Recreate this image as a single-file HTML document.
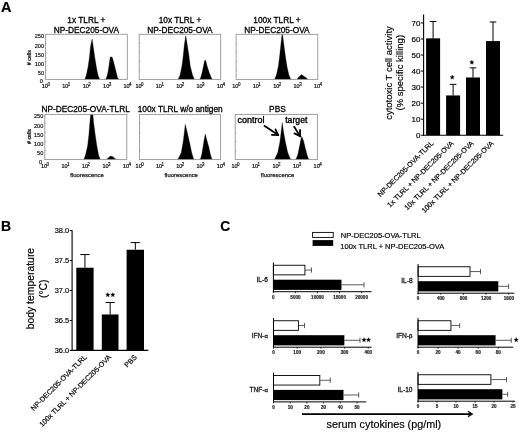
<!DOCTYPE html>
<html><head><meta charset="utf-8"><style>
html,body{margin:0;padding:0;background:#fff;}
body{width:520px;height:432px;overflow:hidden;}
svg{display:block;font-family:"Liberation Sans", sans-serif;will-change:transform;}
</style></head><body>
<svg width="520" height="432" viewBox="0 0 520 432">
<rect width="520" height="432" fill="#fff"/>
<text x="0.90" y="11.80" font-size="14.5" text-anchor="start" font-weight="bold" fill="#000" stroke="#000" stroke-width="0.2" >A</text>
<text x="0.90" y="231.20" font-size="14" text-anchor="start" font-weight="bold" fill="#000" stroke="#000" stroke-width="0.2" >B</text>
<text x="220.20" y="231.30" font-size="13.8" text-anchor="start" font-weight="bold" fill="#000" stroke="#000" stroke-width="0.2" >C</text>
<path d="M84.90,79.30 L86.20,75.60 L88.00,67.25 L89.50,56.80 L90.50,46.40 L92.10,39.10 L93.25,46.40 L94.70,56.80 L96.40,67.25 L98.10,75.60 L99.70,79.30 Z" fill="#000" stroke="#000" stroke-width="0.3" stroke-linejoin="round"/>
<path d="M105.60,79.30 L106.70,77.20 L108.10,71.50 L109.20,64.30 L110.10,57.40 L111.10,56.80 L112.40,57.60 L114.20,64.30 L116.00,71.50 L117.40,77.20 L118.80,79.30 Z" fill="#000" stroke="#000" stroke-width="0.3" stroke-linejoin="round"/>
<rect x="45.60" y="34.30" width="81.70" height="45.10" fill="none" stroke="#959595" stroke-width="0.9"/>
<line x1="45.60" y1="70.38" x2="46.90" y2="70.38" stroke="#959595" stroke-width="0.6" />
<line x1="45.60" y1="61.36" x2="46.90" y2="61.36" stroke="#959595" stroke-width="0.6" />
<line x1="45.60" y1="52.34" x2="46.90" y2="52.34" stroke="#959595" stroke-width="0.6" />
<line x1="45.60" y1="43.32" x2="46.90" y2="43.32" stroke="#959595" stroke-width="0.6" />
<text x="41.80" y="87.70" font-size="5.5" text-anchor="start" font-weight="normal" fill="#111" stroke="#111" stroke-width="0.22" >10</text>
<text x="47.40" y="85.90" font-size="4.5" text-anchor="start" font-weight="normal" fill="#111" stroke="#111" stroke-width="0.18" >0</text>
<text x="62.23" y="87.70" font-size="5.5" text-anchor="start" font-weight="normal" fill="#111" stroke="#111" stroke-width="0.22" >10</text>
<text x="67.83" y="85.90" font-size="4.5" text-anchor="start" font-weight="normal" fill="#111" stroke="#111" stroke-width="0.18" >1</text>
<text x="82.65" y="87.70" font-size="5.5" text-anchor="start" font-weight="normal" fill="#111" stroke="#111" stroke-width="0.22" >10</text>
<text x="88.25" y="85.90" font-size="4.5" text-anchor="start" font-weight="normal" fill="#111" stroke="#111" stroke-width="0.18" >2</text>
<text x="103.08" y="87.70" font-size="5.5" text-anchor="start" font-weight="normal" fill="#111" stroke="#111" stroke-width="0.22" >10</text>
<text x="108.67" y="85.90" font-size="4.5" text-anchor="start" font-weight="normal" fill="#111" stroke="#111" stroke-width="0.18" >3</text>
<text x="123.50" y="87.70" font-size="5.5" text-anchor="start" font-weight="normal" fill="#111" stroke="#111" stroke-width="0.22" >10</text>
<text x="129.10" y="85.90" font-size="4.5" text-anchor="start" font-weight="normal" fill="#111" stroke="#111" stroke-width="0.18" >4</text>
<text x="44.10" y="38.25" font-size="5.6" text-anchor="end" font-weight="normal" fill="#111" stroke="#111" stroke-width="0.18" >250</text>
<text x="44.10" y="48.00" font-size="5.6" text-anchor="end" font-weight="normal" fill="#111" stroke="#111" stroke-width="0.18" >200</text>
<text x="44.10" y="57.00" font-size="5.6" text-anchor="end" font-weight="normal" fill="#111" stroke="#111" stroke-width="0.18" >150</text>
<text x="44.10" y="66.00" font-size="5.6" text-anchor="end" font-weight="normal" fill="#111" stroke="#111" stroke-width="0.18" >100</text>
<text x="44.10" y="75.30" font-size="5.6" text-anchor="end" font-weight="normal" fill="#111" stroke="#111" stroke-width="0.18" >50</text>
<text x="41.30" y="83.40" font-size="5.6" text-anchor="middle" font-weight="normal" fill="#111" stroke="#111" stroke-width="0.18" >0</text>
<text transform="translate(31.30,57.65) rotate(-90)" font-size="5.3" text-anchor="middle" fill="#111" stroke="#111" stroke-width="0.25">#  cells</text>
<path d="M178.10,79.30 L180.00,75.20 L181.90,66.30 L183.30,55.20 L184.40,44.10 L185.80,35.80 L187.20,44.10 L188.90,55.20 L190.30,66.30 L192.60,75.20 L194.40,79.30 Z" fill="#000" stroke="#000" stroke-width="0.3" stroke-linejoin="round"/>
<path d="M199.90,79.30 L200.80,77.30 L202.00,73.10 L203.30,67.00 L204.60,60.60 L205.20,60.30 L205.80,60.80 L207.40,67.00 L209.40,73.10 L211.10,77.30 L212.30,79.30 Z" fill="#000" stroke="#000" stroke-width="0.3" stroke-linejoin="round"/>
<rect x="139.20" y="34.30" width="81.50" height="45.10" fill="none" stroke="#959595" stroke-width="0.9"/>
<line x1="139.20" y1="70.38" x2="140.50" y2="70.38" stroke="#959595" stroke-width="0.6" />
<line x1="139.20" y1="61.36" x2="140.50" y2="61.36" stroke="#959595" stroke-width="0.6" />
<line x1="139.20" y1="52.34" x2="140.50" y2="52.34" stroke="#959595" stroke-width="0.6" />
<line x1="139.20" y1="43.32" x2="140.50" y2="43.32" stroke="#959595" stroke-width="0.6" />
<text x="135.40" y="87.70" font-size="5.5" text-anchor="start" font-weight="normal" fill="#111" stroke="#111" stroke-width="0.22" >10</text>
<text x="141.00" y="85.90" font-size="4.5" text-anchor="start" font-weight="normal" fill="#111" stroke="#111" stroke-width="0.18" >0</text>
<text x="155.77" y="87.70" font-size="5.5" text-anchor="start" font-weight="normal" fill="#111" stroke="#111" stroke-width="0.22" >10</text>
<text x="161.38" y="85.90" font-size="4.5" text-anchor="start" font-weight="normal" fill="#111" stroke="#111" stroke-width="0.18" >1</text>
<text x="176.15" y="87.70" font-size="5.5" text-anchor="start" font-weight="normal" fill="#111" stroke="#111" stroke-width="0.22" >10</text>
<text x="181.75" y="85.90" font-size="4.5" text-anchor="start" font-weight="normal" fill="#111" stroke="#111" stroke-width="0.18" >2</text>
<text x="196.52" y="87.70" font-size="5.5" text-anchor="start" font-weight="normal" fill="#111" stroke="#111" stroke-width="0.22" >10</text>
<text x="202.12" y="85.90" font-size="4.5" text-anchor="start" font-weight="normal" fill="#111" stroke="#111" stroke-width="0.18" >3</text>
<text x="216.90" y="87.70" font-size="5.5" text-anchor="start" font-weight="normal" fill="#111" stroke="#111" stroke-width="0.22" >10</text>
<text x="222.50" y="85.90" font-size="4.5" text-anchor="start" font-weight="normal" fill="#111" stroke="#111" stroke-width="0.18" >4</text>
<path d="M274.60,79.30 L276.40,75.10 L278.40,66.00 L279.80,54.70 L281.00,43.30 L282.00,34.30 L282.60,34.30 L283.70,43.30 L285.20,54.70 L286.90,66.00 L288.90,75.10 L290.80,79.30 Z" fill="#000" stroke="#000" stroke-width="0.3" stroke-linejoin="round"/>
<path d="M297.00,79.30 L298.30,77.60 L301.40,74.50 L303.50,76.00 L305.80,77.60 L307.80,79.30 Z" fill="#000" stroke="#000" stroke-width="0.3" stroke-linejoin="round"/>
<rect x="236.10" y="34.30" width="81.70" height="45.10" fill="none" stroke="#959595" stroke-width="0.9"/>
<line x1="236.10" y1="70.38" x2="237.40" y2="70.38" stroke="#959595" stroke-width="0.6" />
<line x1="236.10" y1="61.36" x2="237.40" y2="61.36" stroke="#959595" stroke-width="0.6" />
<line x1="236.10" y1="52.34" x2="237.40" y2="52.34" stroke="#959595" stroke-width="0.6" />
<line x1="236.10" y1="43.32" x2="237.40" y2="43.32" stroke="#959595" stroke-width="0.6" />
<text x="232.30" y="87.70" font-size="5.5" text-anchor="start" font-weight="normal" fill="#111" stroke="#111" stroke-width="0.22" >10</text>
<text x="237.90" y="85.90" font-size="4.5" text-anchor="start" font-weight="normal" fill="#111" stroke="#111" stroke-width="0.18" >0</text>
<text x="252.72" y="87.70" font-size="5.5" text-anchor="start" font-weight="normal" fill="#111" stroke="#111" stroke-width="0.22" >10</text>
<text x="258.32" y="85.90" font-size="4.5" text-anchor="start" font-weight="normal" fill="#111" stroke="#111" stroke-width="0.18" >1</text>
<text x="273.15" y="87.70" font-size="5.5" text-anchor="start" font-weight="normal" fill="#111" stroke="#111" stroke-width="0.22" >10</text>
<text x="278.75" y="85.90" font-size="4.5" text-anchor="start" font-weight="normal" fill="#111" stroke="#111" stroke-width="0.18" >2</text>
<text x="293.57" y="87.70" font-size="5.5" text-anchor="start" font-weight="normal" fill="#111" stroke="#111" stroke-width="0.22" >10</text>
<text x="299.18" y="85.90" font-size="4.5" text-anchor="start" font-weight="normal" fill="#111" stroke="#111" stroke-width="0.18" >3</text>
<text x="314.00" y="87.70" font-size="5.5" text-anchor="start" font-weight="normal" fill="#111" stroke="#111" stroke-width="0.22" >10</text>
<text x="319.60" y="85.90" font-size="4.5" text-anchor="start" font-weight="normal" fill="#111" stroke="#111" stroke-width="0.18" >4</text>
<text x="86.40" y="22.80" font-size="8.3" text-anchor="middle" font-weight="normal" fill="#000" stroke="#000" stroke-width="0.3" >1x TLRL +</text>
<text x="86.40" y="32.60" font-size="8.3" text-anchor="middle" font-weight="normal" fill="#000" stroke="#000" stroke-width="0.3" >NP-DEC205-OVA</text>
<text x="180.00" y="22.80" font-size="8.3" text-anchor="middle" font-weight="normal" fill="#000" stroke="#000" stroke-width="0.3" >10x TLRL +</text>
<text x="180.00" y="32.60" font-size="8.3" text-anchor="middle" font-weight="normal" fill="#000" stroke="#000" stroke-width="0.3" >NP-DEC205-OVA</text>
<text x="277.00" y="22.80" font-size="8.3" text-anchor="middle" font-weight="normal" fill="#000" stroke="#000" stroke-width="0.3" >100x TLRL +</text>
<text x="277.00" y="32.60" font-size="8.3" text-anchor="middle" font-weight="normal" fill="#000" stroke="#000" stroke-width="0.3" >NP-DEC205-OVA</text>
<path d="M83.80,159.50 L85.50,155.10 L87.60,146.00 L88.90,134.70 L89.80,123.30 L90.60,114.40 L92.90,114.40 L93.70,123.30 L95.20,134.70 L96.90,146.00 L98.60,155.10 L100.30,159.50 Z" fill="#000" stroke="#000" stroke-width="0.3" stroke-linejoin="round"/>
<path d="M106.60,159.40 L108.50,157.50 L110.70,156.10 L112.50,156.60 L114.50,158.20 L116.60,159.40 Z" fill="#000" stroke="#000" stroke-width="0.3" stroke-linejoin="round"/>
<rect x="44.80" y="114.40" width="82.00" height="45.20" fill="none" stroke="#959595" stroke-width="0.9"/>
<line x1="44.80" y1="150.56" x2="46.10" y2="150.56" stroke="#959595" stroke-width="0.6" />
<line x1="44.80" y1="141.52" x2="46.10" y2="141.52" stroke="#959595" stroke-width="0.6" />
<line x1="44.80" y1="132.48" x2="46.10" y2="132.48" stroke="#959595" stroke-width="0.6" />
<line x1="44.80" y1="123.44" x2="46.10" y2="123.44" stroke="#959595" stroke-width="0.6" />
<text x="41.00" y="167.90" font-size="5.5" text-anchor="start" font-weight="normal" fill="#111" stroke="#111" stroke-width="0.22" >10</text>
<text x="46.60" y="166.10" font-size="4.5" text-anchor="start" font-weight="normal" fill="#111" stroke="#111" stroke-width="0.18" >0</text>
<text x="61.50" y="167.90" font-size="5.5" text-anchor="start" font-weight="normal" fill="#111" stroke="#111" stroke-width="0.22" >10</text>
<text x="67.10" y="166.10" font-size="4.5" text-anchor="start" font-weight="normal" fill="#111" stroke="#111" stroke-width="0.18" >1</text>
<text x="82.00" y="167.90" font-size="5.5" text-anchor="start" font-weight="normal" fill="#111" stroke="#111" stroke-width="0.22" >10</text>
<text x="87.60" y="166.10" font-size="4.5" text-anchor="start" font-weight="normal" fill="#111" stroke="#111" stroke-width="0.18" >2</text>
<text x="102.50" y="167.90" font-size="5.5" text-anchor="start" font-weight="normal" fill="#111" stroke="#111" stroke-width="0.22" >10</text>
<text x="108.10" y="166.10" font-size="4.5" text-anchor="start" font-weight="normal" fill="#111" stroke="#111" stroke-width="0.18" >3</text>
<text x="123.00" y="167.90" font-size="5.5" text-anchor="start" font-weight="normal" fill="#111" stroke="#111" stroke-width="0.22" >10</text>
<text x="128.60" y="166.10" font-size="4.5" text-anchor="start" font-weight="normal" fill="#111" stroke="#111" stroke-width="0.18" >4</text>
<text x="43.30" y="118.35" font-size="5.6" text-anchor="end" font-weight="normal" fill="#111" stroke="#111" stroke-width="0.18" >250</text>
<text x="43.30" y="128.10" font-size="5.6" text-anchor="end" font-weight="normal" fill="#111" stroke="#111" stroke-width="0.18" >200</text>
<text x="43.30" y="137.10" font-size="5.6" text-anchor="end" font-weight="normal" fill="#111" stroke="#111" stroke-width="0.18" >150</text>
<text x="43.30" y="146.10" font-size="5.6" text-anchor="end" font-weight="normal" fill="#111" stroke="#111" stroke-width="0.18" >100</text>
<text x="43.30" y="155.40" font-size="5.6" text-anchor="end" font-weight="normal" fill="#111" stroke="#111" stroke-width="0.18" >50</text>
<text x="40.50" y="163.60" font-size="5.6" text-anchor="middle" font-weight="normal" fill="#111" stroke="#111" stroke-width="0.18" >0</text>
<text transform="translate(30.50,136.50) rotate(-90)" font-size="5.3" text-anchor="middle" fill="#111" stroke="#111" stroke-width="0.25">#  cells</text>
<text x="87.00" y="176.80" font-size="5.9" text-anchor="middle" font-weight="normal" fill="#222" stroke="#222" stroke-width="0.25" >fluorescence</text>
<path d="M177.50,159.50 L179.00,157.30 L181.20,152.80 L183.00,142.90 L184.25,132.90 L185.25,124.20 L187.40,132.90 L189.70,142.90 L191.70,152.80 L193.10,157.30 L193.90,159.50 Z" fill="#000" stroke="#000" stroke-width="0.3" stroke-linejoin="round"/>
<path d="M199.80,159.50 L200.70,158.20 L201.70,154.70 L203.00,147.10 L204.20,139.50 L205.30,134.10 L206.70,139.50 L208.80,147.10 L210.50,154.70 L211.60,158.20 L212.40,159.50 Z" fill="#000" stroke="#000" stroke-width="0.3" stroke-linejoin="round"/>
<rect x="139.40" y="114.40" width="81.20" height="45.20" fill="none" stroke="#959595" stroke-width="0.9"/>
<line x1="139.40" y1="150.56" x2="140.70" y2="150.56" stroke="#959595" stroke-width="0.6" />
<line x1="139.40" y1="141.52" x2="140.70" y2="141.52" stroke="#959595" stroke-width="0.6" />
<line x1="139.40" y1="132.48" x2="140.70" y2="132.48" stroke="#959595" stroke-width="0.6" />
<line x1="139.40" y1="123.44" x2="140.70" y2="123.44" stroke="#959595" stroke-width="0.6" />
<text x="135.60" y="167.90" font-size="5.5" text-anchor="start" font-weight="normal" fill="#111" stroke="#111" stroke-width="0.22" >10</text>
<text x="141.20" y="166.10" font-size="4.5" text-anchor="start" font-weight="normal" fill="#111" stroke="#111" stroke-width="0.18" >0</text>
<text x="155.90" y="167.90" font-size="5.5" text-anchor="start" font-weight="normal" fill="#111" stroke="#111" stroke-width="0.22" >10</text>
<text x="161.50" y="166.10" font-size="4.5" text-anchor="start" font-weight="normal" fill="#111" stroke="#111" stroke-width="0.18" >1</text>
<text x="176.20" y="167.90" font-size="5.5" text-anchor="start" font-weight="normal" fill="#111" stroke="#111" stroke-width="0.22" >10</text>
<text x="181.80" y="166.10" font-size="4.5" text-anchor="start" font-weight="normal" fill="#111" stroke="#111" stroke-width="0.18" >2</text>
<text x="196.50" y="167.90" font-size="5.5" text-anchor="start" font-weight="normal" fill="#111" stroke="#111" stroke-width="0.22" >10</text>
<text x="202.10" y="166.10" font-size="4.5" text-anchor="start" font-weight="normal" fill="#111" stroke="#111" stroke-width="0.18" >3</text>
<text x="216.80" y="167.90" font-size="5.5" text-anchor="start" font-weight="normal" fill="#111" stroke="#111" stroke-width="0.22" >10</text>
<text x="222.40" y="166.10" font-size="4.5" text-anchor="start" font-weight="normal" fill="#111" stroke="#111" stroke-width="0.18" >4</text>
<text x="181.20" y="176.80" font-size="5.9" text-anchor="middle" font-weight="normal" fill="#222" stroke="#222" stroke-width="0.25" >fluorescence</text>
<path d="M274.30,159.50 L275.70,157.10 L277.80,152.50 L279.90,142.00 L281.20,131.60 L282.25,122.50 L283.50,131.60 L285.40,142.00 L287.70,152.50 L289.50,157.10 L290.80,159.50 Z" fill="#000" stroke="#000" stroke-width="0.3" stroke-linejoin="round"/>
<path d="M295.60,159.50 L296.30,158.30 L297.70,155.10 L299.20,147.90 L300.60,140.75 L301.70,136.30 L303.50,140.75 L305.30,147.90 L307.10,155.10 L308.30,158.30 L309.20,159.50 Z" fill="#000" stroke="#000" stroke-width="0.3" stroke-linejoin="round"/>
<rect x="235.20" y="114.40" width="82.20" height="45.20" fill="none" stroke="#959595" stroke-width="0.9"/>
<line x1="235.20" y1="150.56" x2="236.50" y2="150.56" stroke="#959595" stroke-width="0.6" />
<line x1="235.20" y1="141.52" x2="236.50" y2="141.52" stroke="#959595" stroke-width="0.6" />
<line x1="235.20" y1="132.48" x2="236.50" y2="132.48" stroke="#959595" stroke-width="0.6" />
<line x1="235.20" y1="123.44" x2="236.50" y2="123.44" stroke="#959595" stroke-width="0.6" />
<text x="231.40" y="167.90" font-size="5.5" text-anchor="start" font-weight="normal" fill="#111" stroke="#111" stroke-width="0.22" >10</text>
<text x="237.00" y="166.10" font-size="4.5" text-anchor="start" font-weight="normal" fill="#111" stroke="#111" stroke-width="0.18" >0</text>
<text x="251.95" y="167.90" font-size="5.5" text-anchor="start" font-weight="normal" fill="#111" stroke="#111" stroke-width="0.22" >10</text>
<text x="257.55" y="166.10" font-size="4.5" text-anchor="start" font-weight="normal" fill="#111" stroke="#111" stroke-width="0.18" >1</text>
<text x="272.50" y="167.90" font-size="5.5" text-anchor="start" font-weight="normal" fill="#111" stroke="#111" stroke-width="0.22" >10</text>
<text x="278.10" y="166.10" font-size="4.5" text-anchor="start" font-weight="normal" fill="#111" stroke="#111" stroke-width="0.18" >2</text>
<text x="293.05" y="167.90" font-size="5.5" text-anchor="start" font-weight="normal" fill="#111" stroke="#111" stroke-width="0.22" >10</text>
<text x="298.65" y="166.10" font-size="4.5" text-anchor="start" font-weight="normal" fill="#111" stroke="#111" stroke-width="0.18" >3</text>
<text x="313.60" y="167.90" font-size="5.5" text-anchor="start" font-weight="normal" fill="#111" stroke="#111" stroke-width="0.22" >10</text>
<text x="319.20" y="166.10" font-size="4.5" text-anchor="start" font-weight="normal" fill="#111" stroke="#111" stroke-width="0.18" >4</text>
<text x="277.50" y="176.80" font-size="5.9" text-anchor="middle" font-weight="normal" fill="#222" stroke="#222" stroke-width="0.25" >fluorescence</text>
<text x="85.60" y="112.00" font-size="8.3" text-anchor="middle" font-weight="normal" fill="#000" stroke="#000" stroke-width="0.3" >NP-DEC205-OVA-TLRL</text>
<text x="180.20" y="112.00" font-size="8.3" text-anchor="middle" font-weight="normal" fill="#000" stroke="#000" stroke-width="0.3" >100x TLRL w/o antigen</text>
<text x="277.40" y="112.00" font-size="8.3" text-anchor="middle" font-weight="normal" fill="#000" stroke="#000" stroke-width="0.3" >PBS</text>
<text x="237.40" y="123.10" font-size="9.0" text-anchor="start" font-weight="normal" fill="#000" stroke="#000" stroke-width="0.35" >control</text>
<text x="285.20" y="123.00" font-size="8.7" text-anchor="start" font-weight="normal" fill="#000" stroke="#000" stroke-width="0.35" >target</text>
<line x1="263.90" y1="125.60" x2="278.20" y2="135.10" stroke="#000" stroke-width="1.8" />
<line x1="278.20" y1="135.10" x2="271.91" y2="134.81" stroke="#000" stroke-width="1.8" stroke-linecap="round"/>
<line x1="278.20" y1="135.10" x2="275.50" y2="129.41" stroke="#000" stroke-width="1.8" stroke-linecap="round"/>
<line x1="293.80" y1="126.10" x2="300.10" y2="136.30" stroke="#000" stroke-width="1.8" />
<line x1="300.10" y1="136.30" x2="294.50" y2="133.41" stroke="#000" stroke-width="1.8" stroke-linecap="round"/>
<line x1="300.10" y1="136.30" x2="300.02" y2="130.00" stroke="#000" stroke-width="1.8" stroke-linecap="round"/>
<line x1="423.60" y1="14.40" x2="423.60" y2="135.70" stroke="#000" stroke-width="1.1" />
<line x1="423.10" y1="135.20" x2="503.20" y2="135.20" stroke="#000" stroke-width="1.1" />
<line x1="421.00" y1="135.20" x2="423.60" y2="135.20" stroke="#000" stroke-width="1.0" />
<text x="420.50" y="138.00" font-size="8.0" text-anchor="end" font-weight="normal" fill="#000" stroke="#000" stroke-width="0.18" >0</text>
<line x1="421.00" y1="119.16" x2="423.60" y2="119.16" stroke="#000" stroke-width="1.0" />
<text x="420.50" y="121.96" font-size="8.0" text-anchor="end" font-weight="normal" fill="#000" stroke="#000" stroke-width="0.18" >10</text>
<line x1="421.00" y1="103.13" x2="423.60" y2="103.13" stroke="#000" stroke-width="1.0" />
<text x="420.50" y="105.93" font-size="8.0" text-anchor="end" font-weight="normal" fill="#000" stroke="#000" stroke-width="0.18" >20</text>
<line x1="421.00" y1="87.09" x2="423.60" y2="87.09" stroke="#000" stroke-width="1.0" />
<text x="420.50" y="89.89" font-size="8.0" text-anchor="end" font-weight="normal" fill="#000" stroke="#000" stroke-width="0.18" >30</text>
<line x1="421.00" y1="71.06" x2="423.60" y2="71.06" stroke="#000" stroke-width="1.0" />
<text x="420.50" y="73.86" font-size="8.0" text-anchor="end" font-weight="normal" fill="#000" stroke="#000" stroke-width="0.18" >40</text>
<line x1="421.00" y1="55.02" x2="423.60" y2="55.02" stroke="#000" stroke-width="1.0" />
<text x="420.50" y="57.82" font-size="8.0" text-anchor="end" font-weight="normal" fill="#000" stroke="#000" stroke-width="0.18" >50</text>
<line x1="421.00" y1="38.98" x2="423.60" y2="38.98" stroke="#000" stroke-width="1.0" />
<text x="420.50" y="41.78" font-size="8.0" text-anchor="end" font-weight="normal" fill="#000" stroke="#000" stroke-width="0.18" >60</text>
<line x1="421.00" y1="22.95" x2="423.60" y2="22.95" stroke="#000" stroke-width="1.0" />
<text x="420.50" y="25.75" font-size="8.0" text-anchor="end" font-weight="normal" fill="#000" stroke="#000" stroke-width="0.18" >70</text>
<line x1="433.10" y1="38.34" x2="433.10" y2="21.50" stroke="#000" stroke-width="1.0" />
<line x1="429.80" y1="21.50" x2="436.40" y2="21.50" stroke="#000" stroke-width="1.0" />
<rect x="426.10" y="38.34" width="14.00" height="96.86" fill="#000" stroke="none" stroke-width="0"/>
<line x1="453.10" y1="95.43" x2="453.10" y2="84.37" stroke="#000" stroke-width="1.0" />
<line x1="449.80" y1="84.37" x2="456.40" y2="84.37" stroke="#000" stroke-width="1.0" />
<rect x="446.10" y="95.43" width="14.00" height="39.77" fill="#000" stroke="none" stroke-width="0"/>
<line x1="473.00" y1="77.47" x2="473.00" y2="67.85" stroke="#000" stroke-width="1.0" />
<line x1="469.70" y1="67.85" x2="476.30" y2="67.85" stroke="#000" stroke-width="1.0" />
<rect x="466.00" y="77.47" width="14.00" height="57.73" fill="#000" stroke="none" stroke-width="0"/>
<line x1="493.00" y1="41.07" x2="493.00" y2="21.99" stroke="#000" stroke-width="1.0" />
<line x1="489.70" y1="21.99" x2="496.30" y2="21.99" stroke="#000" stroke-width="1.0" />
<rect x="486.00" y="41.07" width="14.00" height="94.13" fill="#000" stroke="none" stroke-width="0"/>
<polygon points="452.20,75.00 452.79,76.49 454.39,76.59 453.15,77.61 453.55,79.16 452.20,78.30 450.85,79.16 451.25,77.61 450.01,76.59 451.61,76.49" fill="#000" stroke="#000" stroke-width="0.3" stroke-linejoin="round"/>
<polygon points="471.80,60.10 472.39,61.59 473.99,61.69 472.75,62.71 473.15,64.26 471.80,63.40 470.45,64.26 470.85,62.71 469.61,61.69 471.21,61.59" fill="#000" stroke="#000" stroke-width="0.3" stroke-linejoin="round"/>
<g font-size="9.5" text-anchor="middle" stroke="#000" stroke-width="0.18"><text transform="translate(391.8,73) rotate(-90)">cytotoxic T cell activity</text><text transform="translate(403.0,72.7) rotate(-90)">(% specific killing)</text></g>
<text transform="translate(434.00,143.8) rotate(-45)" font-size="7.1" text-anchor="end" stroke="#000" stroke-width="0.18">NP-DEC205-OVA-TLRL</text>
<text transform="translate(454.00,143.8) rotate(-45)" font-size="7.1" text-anchor="end" stroke="#000" stroke-width="0.18">1x TLRL + NP-DEC205-OVA</text>
<text transform="translate(474.00,143.8) rotate(-45)" font-size="7.1" text-anchor="end" stroke="#000" stroke-width="0.18">10x TLRL + NP-DEC205-OVA</text>
<text transform="translate(494.00,143.8) rotate(-45)" font-size="7.1" text-anchor="end" stroke="#000" stroke-width="0.18">100x TLRL + NP-DEC205-OVA</text>
<line x1="72.10" y1="230.20" x2="72.10" y2="350.90" stroke="#000" stroke-width="1.1" />
<line x1="71.60" y1="350.40" x2="148.30" y2="350.40" stroke="#000" stroke-width="1.1" />
<line x1="69.70" y1="350.40" x2="72.10" y2="350.40" stroke="#000" stroke-width="1.0" />
<text x="69.10" y="353.00" font-size="7.4" text-anchor="end" font-weight="normal" fill="#000" stroke="#000" stroke-width="0.18" >36.0</text>
<line x1="69.70" y1="320.45" x2="72.10" y2="320.45" stroke="#000" stroke-width="1.0" />
<text x="69.10" y="323.05" font-size="7.4" text-anchor="end" font-weight="normal" fill="#000" stroke="#000" stroke-width="0.18" >36.5</text>
<line x1="69.70" y1="290.50" x2="72.10" y2="290.50" stroke="#000" stroke-width="1.0" />
<text x="69.10" y="293.10" font-size="7.4" text-anchor="end" font-weight="normal" fill="#000" stroke="#000" stroke-width="0.18" >37.0</text>
<line x1="69.70" y1="260.55" x2="72.10" y2="260.55" stroke="#000" stroke-width="1.0" />
<text x="69.10" y="263.15" font-size="7.4" text-anchor="end" font-weight="normal" fill="#000" stroke="#000" stroke-width="0.18" >37.5</text>
<line x1="69.70" y1="230.60" x2="72.10" y2="230.60" stroke="#000" stroke-width="1.0" />
<text x="69.10" y="233.20" font-size="7.4" text-anchor="end" font-weight="normal" fill="#000" stroke="#000" stroke-width="0.18" >38.0</text>
<line x1="84.95" y1="267.74" x2="84.95" y2="254.56" stroke="#000" stroke-width="1.0" />
<line x1="80.35" y1="254.56" x2="89.55" y2="254.56" stroke="#000" stroke-width="1.0" />
<rect x="76.30" y="267.74" width="17.30" height="82.66" fill="#000" stroke="none" stroke-width="0"/>
<line x1="110.15" y1="314.46" x2="110.15" y2="302.48" stroke="#000" stroke-width="1.0" />
<line x1="105.55" y1="302.48" x2="114.75" y2="302.48" stroke="#000" stroke-width="1.0" />
<rect x="101.80" y="314.46" width="16.70" height="35.94" fill="#000" stroke="none" stroke-width="0"/>
<line x1="135.30" y1="249.77" x2="135.30" y2="242.58" stroke="#000" stroke-width="1.0" />
<line x1="130.70" y1="242.58" x2="139.90" y2="242.58" stroke="#000" stroke-width="1.0" />
<rect x="126.60" y="249.77" width="17.40" height="100.63" fill="#000" stroke="none" stroke-width="0"/>
<polygon points="107.80,292.60 108.39,294.09 109.99,294.19 108.75,295.21 109.15,296.76 107.80,295.90 106.45,296.76 106.85,295.21 105.61,294.19 107.21,294.09" fill="#000" stroke="#000" stroke-width="0.3" stroke-linejoin="round"/>
<polygon points="112.80,292.60 113.39,294.09 114.99,294.19 113.75,295.21 114.15,296.76 112.80,295.90 111.45,296.76 111.85,295.21 110.61,294.19 112.21,294.09" fill="#000" stroke="#000" stroke-width="0.3" stroke-linejoin="round"/>
<g font-size="10.4" text-anchor="middle" stroke="#000" stroke-width="0.18"><text transform="translate(34.4,288.6) rotate(-90)">body temperature</text><text transform="translate(46.7,288.7) rotate(-90)">(°C)</text></g>
<text transform="translate(87.20,357.7) rotate(-45)" font-size="7.1" text-anchor="end" stroke="#000" stroke-width="0.18">NP-DEC205-OVA-TLRL</text>
<text transform="translate(111.60,357.7) rotate(-45)" font-size="7.1" text-anchor="end" stroke="#000" stroke-width="0.18">100x TLRL + NP-DEC205-OVA</text>
<text transform="translate(137.40,357.7) rotate(-45)" font-size="7.1" text-anchor="end" stroke="#000" stroke-width="0.18">PBS</text>
<rect x="312.60" y="232.40" width="20.60" height="5.00" fill="#fff" stroke="#000" stroke-width="0.9"/>
<rect x="312.60" y="240.10" width="20.60" height="5.80" fill="#000" stroke="none" stroke-width="0"/>
<text x="340.80" y="237.60" font-size="7.5" text-anchor="start" font-weight="normal" fill="#000" stroke="#000" stroke-width="0.18" >NP-DEC205-OVA-TLRL</text>
<text x="340.30" y="249.40" font-size="7.5" text-anchor="start" font-weight="normal" fill="#000" stroke="#000" stroke-width="0.18" >100x TLRL + NP-DEC205-OVA</text>
<line x1="305.37" y1="270.05" x2="311.48" y2="270.05" stroke="#333" stroke-width="0.8" />
<line x1="311.48" y1="267.45" x2="311.48" y2="272.65" stroke="#333" stroke-width="0.8" />
<line x1="341.46" y1="284.80" x2="364.00" y2="284.80" stroke="#333" stroke-width="0.8" />
<line x1="364.00" y1="282.20" x2="364.00" y2="287.40" stroke="#333" stroke-width="0.8" />
<rect x="273.40" y="265.25" width="31.52" height="9.60" fill="#fff" stroke="#000" stroke-width="0.9"/>
<rect x="273.40" y="279.70" width="68.06" height="10.20" fill="#000" stroke="none" stroke-width="0"/>
<line x1="273.40" y1="262.50" x2="273.40" y2="292.20" stroke="#000" stroke-width="1.0" />
<line x1="272.90" y1="291.70" x2="371.50" y2="291.70" stroke="#000" stroke-width="1.0" />
<line x1="273.40" y1="291.70" x2="273.40" y2="293.20" stroke="#000" stroke-width="0.8" />
<text x="273.40" y="298.70" font-size="4.6" text-anchor="middle" font-weight="bold" fill="#222" stroke="#222" stroke-width="0.18" >0</text>
<line x1="295.45" y1="291.70" x2="295.45" y2="293.20" stroke="#000" stroke-width="0.8" />
<text x="295.45" y="298.70" font-size="4.6" text-anchor="middle" font-weight="bold" fill="#222" stroke="#222" stroke-width="0.18" >5000</text>
<line x1="317.50" y1="291.70" x2="317.50" y2="293.20" stroke="#000" stroke-width="0.8" />
<text x="317.50" y="298.70" font-size="4.6" text-anchor="middle" font-weight="bold" fill="#222" stroke="#222" stroke-width="0.18" >10000</text>
<line x1="339.55" y1="291.70" x2="339.55" y2="293.20" stroke="#000" stroke-width="0.8" />
<text x="339.55" y="298.70" font-size="4.6" text-anchor="middle" font-weight="bold" fill="#222" stroke="#222" stroke-width="0.18" >15000</text>
<line x1="361.60" y1="291.70" x2="361.60" y2="293.20" stroke="#000" stroke-width="0.8" />
<text x="361.60" y="298.70" font-size="4.6" text-anchor="middle" font-weight="bold" fill="#222" stroke="#222" stroke-width="0.18" >20000</text>
<text x="267.90" y="282.00" font-size="6.6" text-anchor="end" font-weight="normal" fill="#111" stroke="#111" stroke-width="0.26" >IL-6</text>
<line x1="470.48" y1="271.55" x2="480.53" y2="271.55" stroke="#333" stroke-width="0.8" />
<line x1="480.53" y1="268.95" x2="480.53" y2="274.15" stroke="#333" stroke-width="0.8" />
<line x1="498.29" y1="286.30" x2="508.62" y2="286.30" stroke="#333" stroke-width="0.8" />
<line x1="508.62" y1="283.70" x2="508.62" y2="288.90" stroke="#333" stroke-width="0.8" />
<rect x="418.10" y="266.75" width="51.93" height="9.60" fill="#fff" stroke="#000" stroke-width="0.9"/>
<rect x="418.10" y="281.20" width="80.19" height="10.20" fill="#000" stroke="none" stroke-width="0"/>
<line x1="418.10" y1="264.00" x2="418.10" y2="293.70" stroke="#000" stroke-width="1.0" />
<line x1="417.60" y1="293.20" x2="514.30" y2="293.20" stroke="#000" stroke-width="1.0" />
<line x1="418.10" y1="293.20" x2="418.10" y2="294.70" stroke="#000" stroke-width="0.8" />
<text x="418.10" y="300.20" font-size="4.6" text-anchor="middle" font-weight="bold" fill="#222" stroke="#222" stroke-width="0.18" >0</text>
<line x1="440.80" y1="293.20" x2="440.80" y2="294.70" stroke="#000" stroke-width="0.8" />
<text x="440.80" y="300.20" font-size="4.6" text-anchor="middle" font-weight="bold" fill="#222" stroke="#222" stroke-width="0.18" >400</text>
<line x1="463.50" y1="293.20" x2="463.50" y2="294.70" stroke="#000" stroke-width="0.8" />
<text x="463.50" y="300.20" font-size="4.6" text-anchor="middle" font-weight="bold" fill="#222" stroke="#222" stroke-width="0.18" >800</text>
<line x1="486.20" y1="293.20" x2="486.20" y2="294.70" stroke="#000" stroke-width="0.8" />
<text x="486.20" y="300.20" font-size="4.6" text-anchor="middle" font-weight="bold" fill="#222" stroke="#222" stroke-width="0.18" >1200</text>
<line x1="508.90" y1="293.20" x2="508.90" y2="294.70" stroke="#000" stroke-width="0.8" />
<text x="508.90" y="300.20" font-size="4.6" text-anchor="middle" font-weight="bold" fill="#222" stroke="#222" stroke-width="0.18" >1600</text>
<text x="412.60" y="282.80" font-size="6.6" text-anchor="end" font-weight="normal" fill="#111" stroke="#111" stroke-width="0.26" >IL-8</text>
<line x1="298.86" y1="325.55" x2="304.55" y2="325.55" stroke="#333" stroke-width="0.8" />
<line x1="304.55" y1="322.95" x2="304.55" y2="328.15" stroke="#333" stroke-width="0.8" />
<line x1="344.36" y1="340.30" x2="360.00" y2="340.30" stroke="#333" stroke-width="0.8" />
<line x1="360.00" y1="337.70" x2="360.00" y2="342.90" stroke="#333" stroke-width="0.8" />
<rect x="273.50" y="320.75" width="24.91" height="9.60" fill="#fff" stroke="#000" stroke-width="0.9"/>
<rect x="273.50" y="335.20" width="70.86" height="10.20" fill="#000" stroke="none" stroke-width="0"/>
<line x1="273.50" y1="318.00" x2="273.50" y2="347.70" stroke="#000" stroke-width="1.0" />
<line x1="273.00" y1="347.20" x2="371.60" y2="347.20" stroke="#000" stroke-width="1.0" />
<line x1="273.50" y1="347.20" x2="273.50" y2="348.70" stroke="#000" stroke-width="0.8" />
<text x="273.50" y="354.20" font-size="4.6" text-anchor="middle" font-weight="bold" fill="#222" stroke="#222" stroke-width="0.18" >0</text>
<line x1="297.20" y1="347.20" x2="297.20" y2="348.70" stroke="#000" stroke-width="0.8" />
<text x="297.20" y="354.20" font-size="4.6" text-anchor="middle" font-weight="bold" fill="#222" stroke="#222" stroke-width="0.18" >100</text>
<line x1="320.90" y1="347.20" x2="320.90" y2="348.70" stroke="#000" stroke-width="0.8" />
<text x="320.90" y="354.20" font-size="4.6" text-anchor="middle" font-weight="bold" fill="#222" stroke="#222" stroke-width="0.18" >200</text>
<line x1="344.60" y1="347.20" x2="344.60" y2="348.70" stroke="#000" stroke-width="0.8" />
<text x="344.60" y="354.20" font-size="4.6" text-anchor="middle" font-weight="bold" fill="#222" stroke="#222" stroke-width="0.18" >300</text>
<line x1="368.30" y1="347.20" x2="368.30" y2="348.70" stroke="#000" stroke-width="0.8" />
<text x="368.30" y="354.20" font-size="4.6" text-anchor="middle" font-weight="bold" fill="#222" stroke="#222" stroke-width="0.18" >400</text>
<text x="268.00" y="337.50" font-size="6.6" text-anchor="end" font-weight="normal" fill="#111" stroke="#111" stroke-width="0.26" >IFN-<tspan font-size="6">α</tspan></text>
<polygon points="364.00,337.60 364.59,339.09 366.19,339.19 364.95,340.21 365.35,341.76 364.00,340.90 362.65,341.76 363.05,340.21 361.81,339.19 363.41,339.09" fill="#000" stroke="#000" stroke-width="0.3" stroke-linejoin="round"/>
<polygon points="368.50,337.60 369.09,339.09 370.69,339.19 369.45,340.21 369.85,341.76 368.50,340.90 367.15,341.76 367.55,340.21 366.31,339.19 367.91,339.09" fill="#000" stroke="#000" stroke-width="0.3" stroke-linejoin="round"/>
<line x1="451.38" y1="325.55" x2="459.70" y2="325.55" stroke="#333" stroke-width="0.8" />
<line x1="459.70" y1="322.95" x2="459.70" y2="328.15" stroke="#333" stroke-width="0.8" />
<line x1="495.59" y1="340.30" x2="511.23" y2="340.30" stroke="#333" stroke-width="0.8" />
<line x1="511.23" y1="337.70" x2="511.23" y2="342.90" stroke="#333" stroke-width="0.8" />
<rect x="418.00" y="320.75" width="32.93" height="9.60" fill="#fff" stroke="#000" stroke-width="0.9"/>
<rect x="418.00" y="335.20" width="77.59" height="10.20" fill="#000" stroke="none" stroke-width="0"/>
<line x1="418.00" y1="318.00" x2="418.00" y2="347.70" stroke="#000" stroke-width="1.0" />
<line x1="417.50" y1="347.20" x2="513.20" y2="347.20" stroke="#000" stroke-width="1.0" />
<line x1="418.00" y1="347.20" x2="418.00" y2="348.70" stroke="#000" stroke-width="0.8" />
<text x="418.00" y="354.20" font-size="4.6" text-anchor="middle" font-weight="bold" fill="#222" stroke="#222" stroke-width="0.18" >0</text>
<line x1="438.05" y1="347.20" x2="438.05" y2="348.70" stroke="#000" stroke-width="0.8" />
<text x="438.05" y="354.20" font-size="4.6" text-anchor="middle" font-weight="bold" fill="#222" stroke="#222" stroke-width="0.18" >20</text>
<line x1="458.10" y1="347.20" x2="458.10" y2="348.70" stroke="#000" stroke-width="0.8" />
<text x="458.10" y="354.20" font-size="4.6" text-anchor="middle" font-weight="bold" fill="#222" stroke="#222" stroke-width="0.18" >40</text>
<line x1="478.15" y1="347.20" x2="478.15" y2="348.70" stroke="#000" stroke-width="0.8" />
<text x="478.15" y="354.20" font-size="4.6" text-anchor="middle" font-weight="bold" fill="#222" stroke="#222" stroke-width="0.18" >60</text>
<line x1="498.20" y1="347.20" x2="498.20" y2="348.70" stroke="#000" stroke-width="0.8" />
<text x="498.20" y="354.20" font-size="4.6" text-anchor="middle" font-weight="bold" fill="#222" stroke="#222" stroke-width="0.18" >80</text>
<text x="412.50" y="337.50" font-size="6.6" text-anchor="end" font-weight="normal" fill="#111" stroke="#111" stroke-width="0.26" >IFN-<tspan font-size="6">β</tspan></text>
<polygon points="516.20,337.60 516.79,339.09 518.39,339.19 517.15,340.21 517.55,341.76 516.20,340.90 514.85,341.76 515.25,340.21 514.01,339.19 515.61,339.09" fill="#000" stroke="#000" stroke-width="0.3" stroke-linejoin="round"/>
<line x1="320.26" y1="380.25" x2="330.28" y2="380.25" stroke="#333" stroke-width="0.8" />
<line x1="330.28" y1="377.65" x2="330.28" y2="382.85" stroke="#333" stroke-width="0.8" />
<line x1="343.47" y1="395.00" x2="358.67" y2="395.00" stroke="#333" stroke-width="0.8" />
<line x1="358.67" y1="392.40" x2="358.67" y2="397.60" stroke="#333" stroke-width="0.8" />
<rect x="273.50" y="375.45" width="46.31" height="9.60" fill="#fff" stroke="#000" stroke-width="0.9"/>
<rect x="273.50" y="389.90" width="69.97" height="10.20" fill="#000" stroke="none" stroke-width="0"/>
<line x1="273.50" y1="372.70" x2="273.50" y2="402.40" stroke="#000" stroke-width="1.0" />
<line x1="273.00" y1="401.90" x2="366.30" y2="401.90" stroke="#000" stroke-width="1.0" />
<line x1="273.50" y1="401.90" x2="273.50" y2="403.40" stroke="#000" stroke-width="0.8" />
<text x="273.50" y="408.90" font-size="4.6" text-anchor="middle" font-weight="bold" fill="#222" stroke="#222" stroke-width="0.18" >0</text>
<line x1="290.20" y1="401.90" x2="290.20" y2="403.40" stroke="#000" stroke-width="0.8" />
<text x="290.20" y="408.90" font-size="4.6" text-anchor="middle" font-weight="bold" fill="#222" stroke="#222" stroke-width="0.18" >10</text>
<line x1="306.90" y1="401.90" x2="306.90" y2="403.40" stroke="#000" stroke-width="0.8" />
<text x="306.90" y="408.90" font-size="4.6" text-anchor="middle" font-weight="bold" fill="#222" stroke="#222" stroke-width="0.18" >20</text>
<line x1="323.60" y1="401.90" x2="323.60" y2="403.40" stroke="#000" stroke-width="0.8" />
<text x="323.60" y="408.90" font-size="4.6" text-anchor="middle" font-weight="bold" fill="#222" stroke="#222" stroke-width="0.18" >30</text>
<line x1="340.30" y1="401.90" x2="340.30" y2="403.40" stroke="#000" stroke-width="0.8" />
<text x="340.30" y="408.90" font-size="4.6" text-anchor="middle" font-weight="bold" fill="#222" stroke="#222" stroke-width="0.18" >40</text>
<line x1="357.00" y1="401.90" x2="357.00" y2="403.40" stroke="#000" stroke-width="0.8" />
<text x="357.00" y="408.90" font-size="4.6" text-anchor="middle" font-weight="bold" fill="#222" stroke="#222" stroke-width="0.18" >50</text>
<text x="268.00" y="392.20" font-size="6.6" text-anchor="end" font-weight="normal" fill="#111" stroke="#111" stroke-width="0.26" >TNF-<tspan font-size="6">α</tspan></text>
<line x1="491.34" y1="379.55" x2="506.54" y2="379.55" stroke="#333" stroke-width="0.8" />
<line x1="506.54" y1="376.95" x2="506.54" y2="382.15" stroke="#333" stroke-width="0.8" />
<line x1="502.36" y1="394.30" x2="507.68" y2="394.30" stroke="#333" stroke-width="0.8" />
<line x1="507.68" y1="391.70" x2="507.68" y2="396.90" stroke="#333" stroke-width="0.8" />
<rect x="418.00" y="374.75" width="72.89" height="9.60" fill="#fff" stroke="#000" stroke-width="0.9"/>
<rect x="418.00" y="389.20" width="84.36" height="10.20" fill="#000" stroke="none" stroke-width="0"/>
<line x1="418.00" y1="372.00" x2="418.00" y2="401.70" stroke="#000" stroke-width="1.0" />
<line x1="417.50" y1="401.20" x2="515.20" y2="401.20" stroke="#000" stroke-width="1.0" />
<line x1="418.00" y1="401.20" x2="418.00" y2="402.70" stroke="#000" stroke-width="0.8" />
<text x="418.00" y="408.20" font-size="4.6" text-anchor="middle" font-weight="bold" fill="#222" stroke="#222" stroke-width="0.18" >0</text>
<line x1="437.00" y1="401.20" x2="437.00" y2="402.70" stroke="#000" stroke-width="0.8" />
<text x="437.00" y="408.20" font-size="4.6" text-anchor="middle" font-weight="bold" fill="#222" stroke="#222" stroke-width="0.18" >5</text>
<line x1="456.00" y1="401.20" x2="456.00" y2="402.70" stroke="#000" stroke-width="0.8" />
<text x="456.00" y="408.20" font-size="4.6" text-anchor="middle" font-weight="bold" fill="#222" stroke="#222" stroke-width="0.18" >10</text>
<line x1="475.00" y1="401.20" x2="475.00" y2="402.70" stroke="#000" stroke-width="0.8" />
<text x="475.00" y="408.20" font-size="4.6" text-anchor="middle" font-weight="bold" fill="#222" stroke="#222" stroke-width="0.18" >15</text>
<line x1="494.00" y1="401.20" x2="494.00" y2="402.70" stroke="#000" stroke-width="0.8" />
<text x="494.00" y="408.20" font-size="4.6" text-anchor="middle" font-weight="bold" fill="#222" stroke="#222" stroke-width="0.18" >20</text>
<line x1="513.00" y1="401.20" x2="513.00" y2="402.70" stroke="#000" stroke-width="0.8" />
<text x="513.00" y="408.20" font-size="4.6" text-anchor="middle" font-weight="bold" fill="#222" stroke="#222" stroke-width="0.18" >25</text>
<text x="412.50" y="391.50" font-size="6.6" text-anchor="end" font-weight="normal" fill="#111" stroke="#111" stroke-width="0.26" >IL-10</text>
<line x1="302.00" y1="414.10" x2="469.50" y2="414.10" stroke="#000" stroke-width="1.8" />
<path d="M472.9,414.1 L468.0,411.1 L469.6,414.1 L468.0,417.1 Z" fill="#000" stroke="#000" stroke-width="0.6"/>
<text x="326.60" y="427.70" font-size="10.8" text-anchor="start" font-weight="normal" fill="#000" stroke="#000" stroke-width="0.18" >serum cytokines (pg/ml)</text>
</svg>
</body></html>
